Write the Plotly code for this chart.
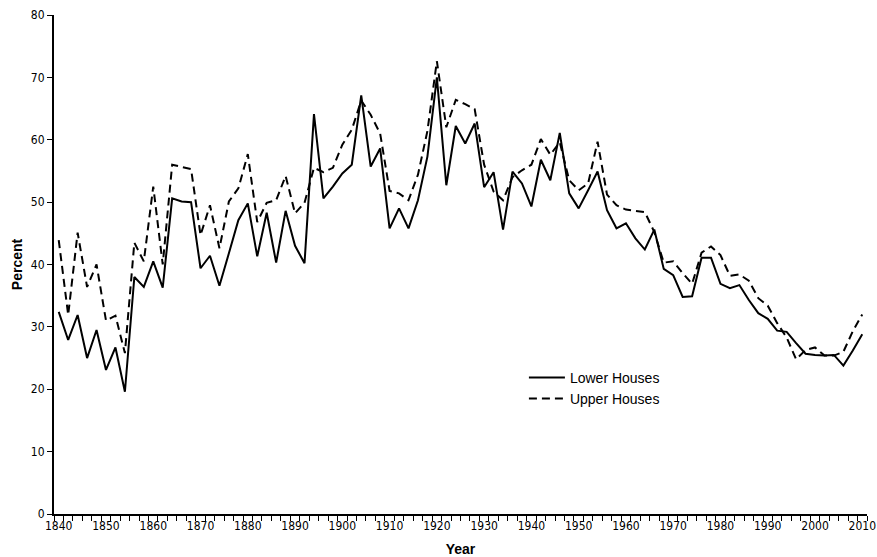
import plotly.graph_objects as go

years = list(range(1840, 2011, 2))

lower_houses = [
    32.4, 27.9, 31.9, 25.0, 29.5, 23.1, 26.7, 19.6, 38.0, 36.4,
    40.5, 36.3, 50.6, 50.1, 50.0, 39.4, 41.4, 36.6, 41.8, 47.1,
    49.8, 41.3, 48.3, 40.3, 48.6, 43.0, 40.2, 64.1, 50.6, 52.5,
    54.6, 56.0, 67.1, 55.7, 58.6, 45.8, 49.0, 45.8, 50.3, 57.3,
    70.0, 52.7, 62.2, 59.4, 62.6, 52.4, 54.8, 45.6, 54.9, 53.0,
    49.3, 56.8, 53.5, 61.1, 51.4, 49.0, 51.9, 54.9, 48.7, 45.8,
    46.6, 44.2, 42.4, 45.6, 39.3, 38.3, 34.8, 34.9, 41.1, 41.1,
    36.9, 36.2, 36.7, 34.3, 32.2, 31.3, 29.4, 29.2, 27.4, 25.7,
    25.5, 25.4, 25.5, 23.8, 26.2, 28.8,
]

upper_houses = [
    43.9, 31.9, 45.1, 36.4, 40.0, 31.0, 31.8, 25.8, 43.5, 40.5,
    52.5, 40.0, 56.0, 55.7, 55.3, 44.7, 49.5, 42.6, 50.1, 52.2,
    57.7, 46.8, 49.9, 50.3, 54.2, 48.2, 49.9, 55.5, 54.8, 55.5,
    59.2, 61.6, 66.3, 64.0, 61.0, 51.8, 51.4, 50.3, 54.4, 61.4,
    72.6, 62.0, 66.4, 65.7, 64.9, 56.0, 51.7, 50.3, 54.0, 55.1,
    56.0, 60.1, 57.6, 59.6, 53.5, 51.9, 53.0, 59.7, 51.2, 49.5,
    48.8, 48.6, 48.4, 45.2, 40.3, 40.5, 38.6, 36.9, 41.9, 42.9,
    41.5, 38.2, 38.4, 37.4, 34.6, 33.4, 30.6, 28.3, 24.8, 26.3,
    26.7, 25.4, 25.4, 26.0, 29.3, 32.0,
]

x_ticks = list(range(1840, 2011, 10))
y_ticks = list(range(0, 81, 10))

tick_font = dict(family="Liberation Sans Narrow, Arial Narrow, DejaVu Sans Condensed, sans-serif",
                 size=12, color="black")
title_font = dict(size=14, family="Liberation Sans, Arial, sans-serif", color="black")

fig = go.Figure()
fig.add_trace(go.Scatter(
    x=years, y=lower_houses, mode="lines", name="Lower Houses",
    line=dict(color="black", width=2, dash="solid"),
))
fig.add_trace(go.Scatter(
    x=years, y=upper_houses, mode="lines", name="Upper Houses",
    line=dict(color="black", width=2, dash="8px,5px"),
))

fig.update_layout(
    width=877, height=557,
    margin=dict(l=54, r=10, t=15, b=43, autoexpand=False),
    paper_bgcolor="white", plot_bgcolor="white",
    font=dict(family="Liberation Sans, Arial, sans-serif", color="black"),
    showlegend=True,
    legend=dict(
        x=0.578, y=0.305, xanchor="left", yanchor="top",
        bgcolor="rgba(0,0,0,0)", font=dict(size=14, family="Liberation Sans, Arial, sans-serif"),
        itemwidth=36, tracegroupgap=0,
    ),
)

fig.update_xaxes(
    range=[1839, 2011], automargin=False,
    tickmode="array", tickvals=x_ticks, ticktext=[str(v) for v in x_ticks],
    ticks="", tickfont=tick_font,
    showline=True, linecolor="black", linewidth=2,
    showgrid=False, zeroline=False,
    minor=dict(tick0=1839, dtick=2, ticks="outside", ticklen=5, tickcolor="black", tickwidth=1, showgrid=False),
    title=dict(text="<b>Year</b>", font=title_font, standoff=12),
)

fig.update_yaxes(
    range=[0, 80], automargin=False,
    tickmode="array", tickvals=y_ticks, ticktext=[str(v) for v in y_ticks],
    ticks="outside", ticklen=5, tickcolor="black", tickwidth=1,
    tickfont=tick_font,
    showline=True, linecolor="black", linewidth=2,
    showgrid=False, zeroline=False,
    title=dict(text="<b>Percent</b>", font=title_font, standoff=5),
)

fig.write_html(
    "out.html",
    config={"displayModeBar": False},
    post_script="document.body.style.margin='0';document.body.style.overflow='hidden';",
)
